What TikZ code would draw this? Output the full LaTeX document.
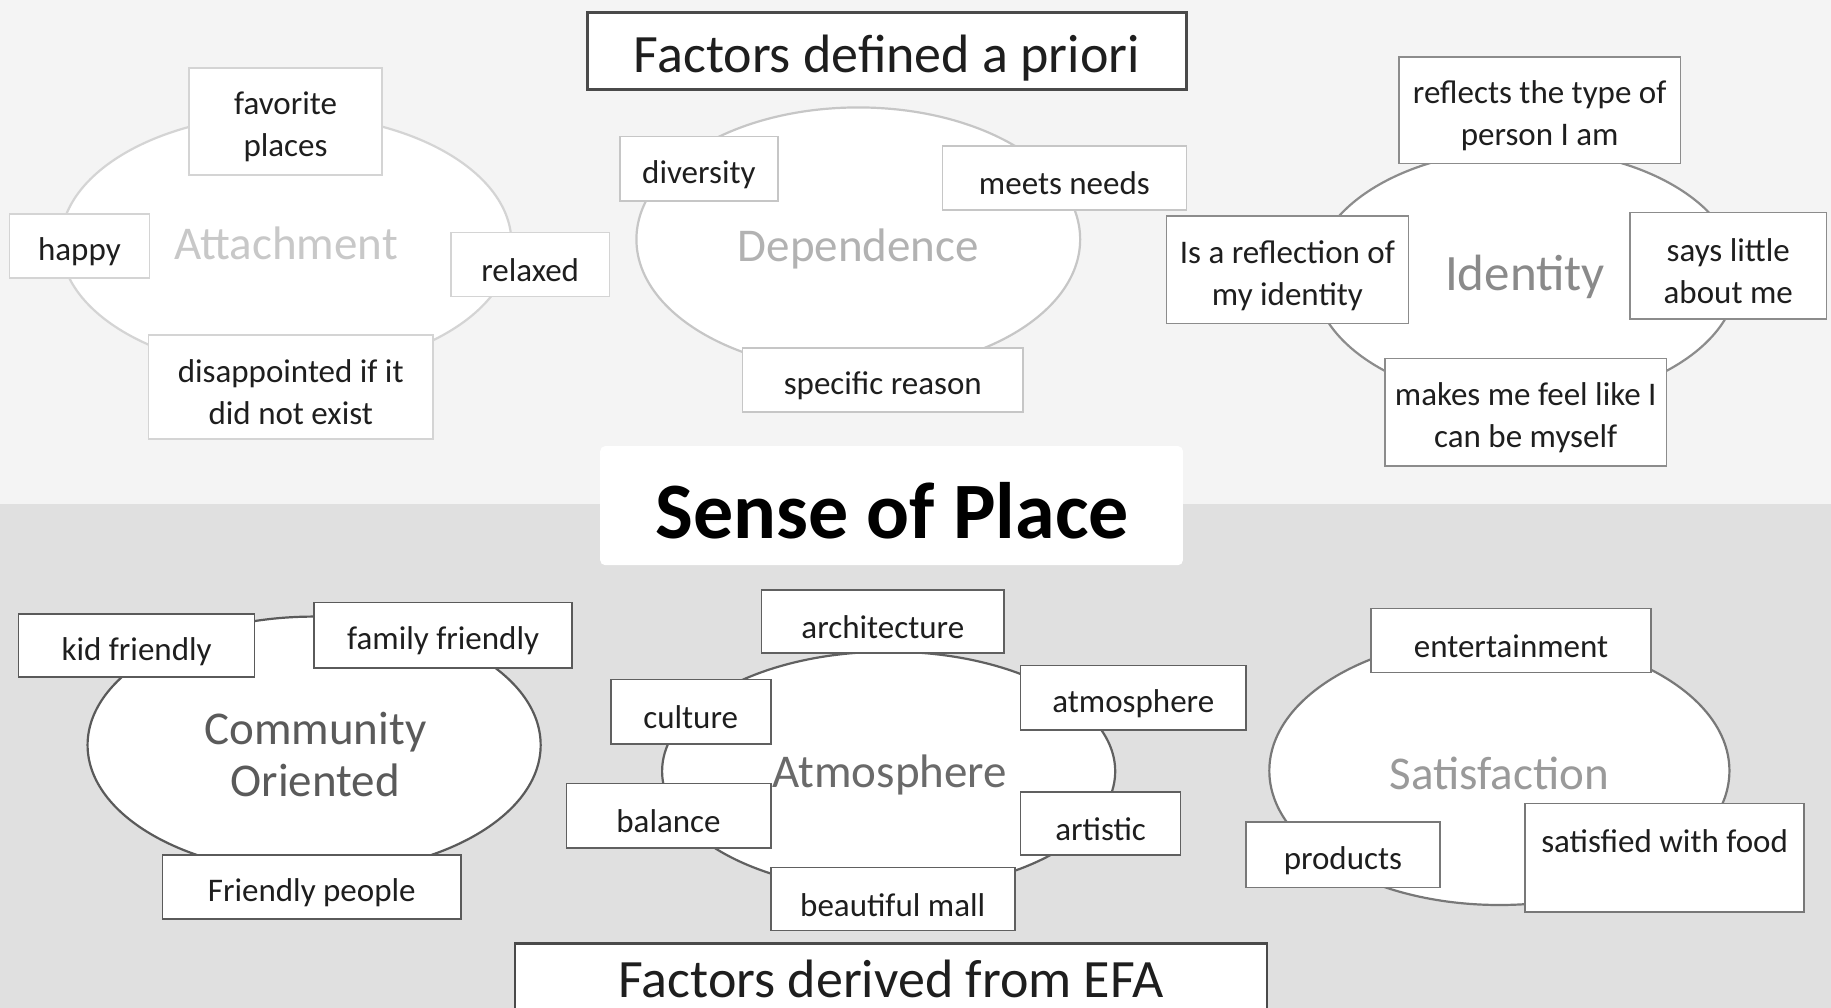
\documentclass[tikz,border=0pt]{standalone}
\usepackage{fontspec}
\setmainfont{Carlito}
\usetikzlibrary{shapes.geometric}
\definecolor{bgtop}{HTML}{F4F4F4}
\definecolor{bgbot}{HTML}{E0E0E0}
\definecolor{txt}{HTML}{1E1E1E}
\definecolor{attc}{HTML}{D4D4D4}
\definecolor{attl}{HTML}{C8C8C8}
\definecolor{depc}{HTML}{C6C6C6}
\definecolor{depl}{HTML}{B2B2B2}
\definecolor{idtc}{HTML}{8C8C8C}
\definecolor{idtl}{HTML}{8A8A8A}
\definecolor{comc}{HTML}{5A5A5A}
\definecolor{coml}{HTML}{5A5A5A}
\definecolor{atmc}{HTML}{606060}
\definecolor{atml}{HTML}{6A6A6A}
\definecolor{satc}{HTML}{787878}
\definecolor{satl}{HTML}{9A9A9A}
\definecolor{ttlc}{HTML}{4A4A4A}
% box from corners: style, name, x1, y1, x2, y2, text
\newcommand\bxnode[7]{\node[bx=#1, minimum width={(#5-#3)*1.1677pt},
  minimum height={(#6-#4)*1.1677pt}] (#2) at ({(#3+#5)/2},{(#4+#6)/2}) {};
  \node[bxt] (#2t) at ([yshift=-5.5pt]#2.center) {#7};}
% ellipse: colour, name, cx, cy, rx, ry
\newcommand\elnode[6]{\node[ell=#1, minimum width={2*#5*1.1677pt},
  minimum height={2*#6*1.1677pt}] (#2) at (#3,#4) {};}
\begin{document}
\begin{tikzpicture}[x=1.1677pt,y=-1.1677pt,
  bx/.style={draw=#1, fill=white, line width=1.6pt, inner sep=0pt, outer sep=0pt},
  bxt/.style={inner sep=0pt, align=center, text=txt, font=\fontsize{33}{42}\selectfont},
  ell/.style={ellipse, draw=#1, fill=white, line width=2.2pt, inner sep=0pt},
  lab/.style={text=#1, align=center, inner sep=0pt, font=\fontsize{47}{54}\selectfont},
  ttl/.style={draw=ttlc, fill=white, line width=3pt, inner sep=0pt},
  plain/.style={inner sep=0pt, text=txt}]
\useasboundingbox (0,0) rectangle (1568,863);
% backgrounds
\fill[bgtop] (0,0) rectangle (1568,432);
\fill[bgbot] (0,432) rectangle (1568,863);

% ===== Attachment =====
\elnode{attc}{eatt}{245}{208}{193}{110}
\bxnode{attc}{fav}{162}{58}{327}{150}{favorite\\places}
\bxnode{attc}{happy}{8}{183}{128}{238}{happy}
\bxnode{attc}{relax}{386}{199}{522}{254}{relaxed}
\bxnode{attc}{disap}{127}{287}{371}{376}{disappointed if it\\did not exist}
\node[lab=attl] (latt) at (245,208) {Attachment};

% ===== Dependence =====
\elnode{depc}{edep}{735}{205}{190}{113}
\bxnode{depc}{div}{531}{117}{666}{172}{diversity}
\bxnode{depc}{meets}{807}{125}{1016}{180}{meets needs}
\bxnode{depc}{spec}{636}{298}{876}{353}{specific reason}
\node[lab=depl] (ldep) at (735,213) {Dependence};

% ===== Identity =====
\elnode{idtc}{eidt}{1306.5}{236.5}{181.5}{108.5}
\bxnode{idtc}{refl}{1198}{49}{1439}{140}{reflects the type of\\person I am}
\bxnode{idtc}{isref}{999}{185}{1206}{277}{Is a reflection of\\my identity}
\bxnode{idtc}{says}{1396}{182}{1564}{273}{says little\\about me}
\bxnode{idtc}{makes}{1186}{307}{1427}{399}{makes me feel like I\\can be myself}
\node[lab=idtl, font=\fontsize{51}{56}\selectfont] (lidt) at (1306,237) {Identity};

% ===== Titles =====
\node[ttl, minimum width={513*1.1677pt}, minimum height={66*1.1677pt}] (tpri) at (759.5,44) {};
\node[plain, font=\fontsize{54}{60}\selectfont] (tprit) at (759.5,50) {Factors defined a priori};
\node[fill=white, rounded corners=5pt, inner sep=0pt, minimum width={499*1.1677pt},
  minimum height={102*1.1677pt}] (sopbox) at (763.5,433) {};
\node[plain, text=black, font=\bfseries\fontsize{80}{90}\selectfont] (sop) at (764,437) {Sense of Place};

% ===== Community Oriented =====
\elnode{comc}{ecom}{269}{638}{194}{110}
\bxnode{comc}{kid}{16}{526}{218}{580}{kid friendly}
\bxnode{comc}{fam}{269}{516}{490}{572}{family friendly}
\bxnode{comc}{frp}{139}{732}{395}{787}{Friendly people}
\node[lab=coml, font=\fontsize{47}{52}\selectfont] (lcom) at (270,646) {Community\\Oriented};

% ===== Atmosphere =====
\elnode{atmc}{eatm}{761}{660.5}{194}{102.5}
\bxnode{atmc}{arch}{652}{505}{860}{559}{architecture}
\bxnode{atmc}{cult}{523}{582}{660}{637}{culture}
\bxnode{atmc}{atmo}{874}{570}{1067}{625}{atmosphere}
\bxnode{atmc}{bal}{485}{671}{660}{726}{balance}
\bxnode{atmc}{art}{874}{678}{1011}{732}{artistic}
\bxnode{atmc}{mall}{660}{743}{869}{797}{beautiful mall}
\node[lab=atml] (latm) at (762,664) {Atmosphere};

% ===== Satisfaction =====
\elnode{satc}{esat}{1284}{660}{197}{115}
\bxnode{satc}{ent}{1174}{521}{1414}{576}{entertainment}
\bxnode{satc}{prod}{1067}{704}{1233}{760}{products}
\bxnode{satc}{food}{1306}{688}{1545}{781}{}
\node[bxt] (foodt2) at (1425.5,720) {satisfied with food};
\node[lab=satl] (lsat) at (1284,662) {Satisfaction};

% ===== bottom title =====
\node[ttl, line width=2.4pt, minimum width={644*1.1677pt}, minimum height={62*1.1677pt}] (tefa) at (763,839) {};
\node[plain, font=\fontsize{54}{60}\selectfont] (tefat) at (763,838) {Factors derived from EFA};
\end{tikzpicture}
\end{document}
